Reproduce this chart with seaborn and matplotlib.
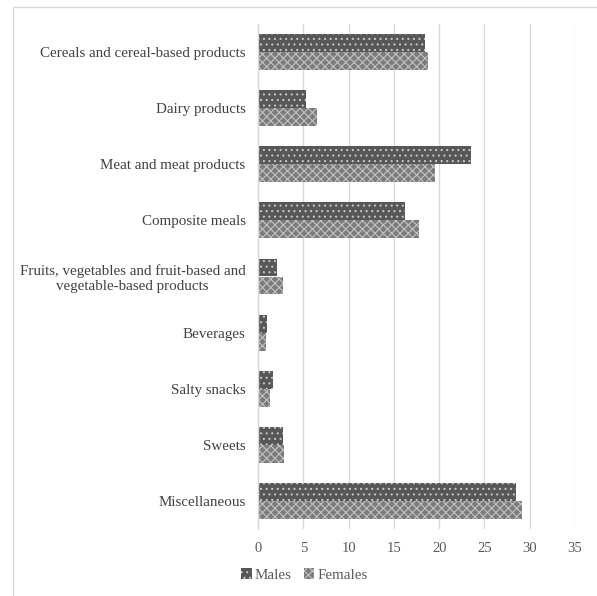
import matplotlib
matplotlib.use("Agg")
import matplotlib.pyplot as plt
import seaborn as sns
import pandas as pd
from matplotlib.patches import Rectangle, Patch

categories = [
    "Cereals and cereal-based products",
    "Dairy products",
    "Meat and meat products",
    "Composite meals",
    "Fruits, vegetables and fruit-based and\nvegetable-based products",
    "Beverages",
    "Salty snacks",
    "Sweets",
    "Miscellaneous",
]
males = [18.4, 5.3, 23.5, 16.2, 2.1, 1.0, 1.7, 2.75, 28.5]
females = [18.8, 6.5, 19.5, 17.8, 2.8, 0.85, 1.3, 2.85, 29.1]
series = ["Males", "Females"]
x_ticks = [0, 5, 10, 15, 20, 25, 30, 35]

df = pd.DataFrame({
    "category": categories * 2,
    "value": males + females,
    "sex": ["Males"] * len(categories) + ["Females"] * len(categories),
})

sns.set_theme(style="white")
plt.rcParams["font.family"] = ["Liberation Serif", "DejaVu Serif"]
plt.rcParams["hatch.linewidth"] = 0.8

fig = plt.figure(figsize=(5.97, 5.96), dpi=100)
ax = fig.add_axes([258 / 597, 1 - 529 / 596, (575 - 258) / 597, (529 - 24) / 596])

styles = {
    "Males": dict(face="#575757", hatch="...", hc="#c4c4c4"),
    "Females": dict(face="#7c7c7c", hatch="xxxx", hc="#c2c2c2"),
}

sns.barplot(data=df, y="category", x="value", hue="sex", hue_order=series,
            order=categories, orient="h", width=0.64, ax=ax, legend=False,
            palette={s: styles[s]["face"] for s in series}, errorbar=None)

for cont, s in zip(ax.containers, series):
    for p in cont:
        p.set_facecolor(styles[s]["face"])
        p.set_hatch(styles[s]["hatch"])
        p.set_edgecolor(styles[s]["hc"])
        p.set_linewidth(0)

ax.set_xlim(0, 35)
ax.set_xticks(x_ticks)
ax.set_xticklabels([str(t) for t in x_ticks])
ax.grid(axis="x", color="#d9d9d9", linewidth=1)
ax.set_axisbelow(True)
for sp in ["top", "right", "bottom"]:
    ax.spines[sp].set_visible(False)
ax.spines["left"].set_color("#d9d9d9")
ax.spines["left"].set_linewidth(1)
ax.set_xlabel("")
ax.set_ylabel("")
ax.tick_params(axis="x", length=0, labelsize=10.5, labelcolor="#595959", pad=9)
ax.tick_params(axis="y", length=0, labelsize=10.8, labelcolor="#404040", pad=9)
for lab in ax.get_yticklabels():
    lab.set_multialignment("center")

handles = [Patch(facecolor=styles[s]["face"], hatch=styles[s]["hatch"],
                 edgecolor=styles[s]["hc"], linewidth=0, label=s) for s in series]
fig.legend(handles=handles, loc="center", bbox_to_anchor=(0.51, 1 - 575 / 596),
           ncol=2, frameon=False, handlelength=0.7, handleheight=0.7,
           handletextpad=0.2, columnspacing=0.8, fontsize=10.8,
           labelcolor="#595959")

fig.patches.append(Rectangle((13 / 597, -0.01), 1.0, 1 - 7 / 596 + 0.01,
                             transform=fig.transFigure, fill=False,
                             edgecolor="#d9d9d9", linewidth=1))

fig.savefig("out.png", dpi=100)
